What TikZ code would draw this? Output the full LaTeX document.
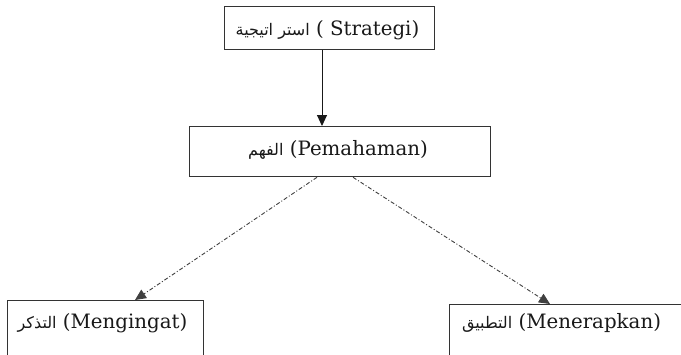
\documentclass[tikz,border=0pt]{standalone}
\usepackage{fontspec}
\setmainfont{DejaVu Serif}
\newfontfamily\arabicfont[Script=Arabic]{DejaVu Sans}
\TeXXeTstate=1
\usetikzlibrary{arrows.meta,calc}
\newcommand{\arw}[1]{{\arabicfont\fontsize{16}{18}\selectfont\beginR #1\endR}}
\begin{document}
\begin{tikzpicture}[x=1pt,y=-1pt,
  box/.style={draw=black!80, line width=1.3pt, inner sep=0pt, anchor=north west},
  lbl/.style={inner sep=0pt, font=\fontsize{19.8}{22}\selectfont, text=black!90},
  solidarrow/.style={draw=black!90, line width=0.9pt, -{Triangle[length=11pt,width=10pt]}},
  dasharrow/.style={draw=black!75, line width=0.9pt, dash pattern=on 4pt off 2pt on 1pt off 2pt, -{Triangle[length=11pt,width=10pt]}}]
\useasboundingbox (0,0) rectangle (681,354);
\clip (0,0) rectangle (681,354);
\fill[white] (0,0) rectangle (681,354);
% boxes
\node[box, minimum width=210pt, minimum height=43pt] (s) at (224,6) {};
\node[box, minimum width=301pt, minimum height=50pt] (m) at (189,126) {};
\node[box, minimum width=196pt, minimum height=70pt] (l) at (7,300) {};
\node[box, minimum width=250pt, minimum height=70pt] (r) at (449,304) {};
% texts
\node[lbl] (st) at (327.5,30) {\arw{استر اتيجية}\ ( Strategi)};
\node[lbl] (mt) at (338,150) {\arw{الفهم}\ (Pemahaman)};
\node[lbl] (lt) at (102.5,323) {\arw{التذكر}\ (Mengingat)};
\node[lbl] (rt) at (561.5,323) {\arw{التطبيق}\ (Menerapkan)};
\coordinate (sa) at (322,0);
% connectors
\draw[solidarrow] (sa |- s.south) -- (sa |- m.north);
\draw[dasharrow] ($(m.south west)+(128,0)$) -- ($(l.north west)+(128,0)$);
\draw[dasharrow] ($(m.south west)+(164,0)$) -- ($(r.north west)+(101,0)$);
\end{tikzpicture}
\end{document}
